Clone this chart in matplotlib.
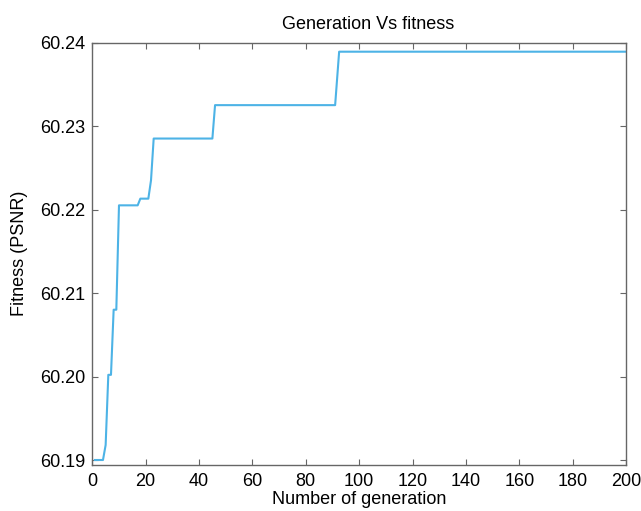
import matplotlib.pyplot as plt

plt.rcParams['font.family'] = ['Liberation Sans', 'DejaVu Sans']

# best fitness per generation (vertices of the curve)
gens = [1, 4, 5, 6, 7, 8, 9, 10, 17, 18, 21, 22, 23, 45, 46, 91, 92.5, 200]
fitness = [60.1900, 60.1900, 60.1918, 60.2002, 60.2002, 60.2080, 60.2080,
           60.2205, 60.2205, 60.2213, 60.2213, 60.2235, 60.2285, 60.2285,
           60.2325, 60.2325, 60.2389, 60.2389]

xticks = list(range(0, 201, 20))
yticks = [60.19, 60.20, 60.21, 60.22, 60.23, 60.24]

fig = plt.figure(figsize=(6.41, 5.11), dpi=100)
ax = fig.add_axes([0.144, 0.090, 0.8326, 0.8268])
ax.plot(gens, fitness, color='#4db3e6', linewidth=1.5)

ax.set_xlim(0, 200)
ax.set_ylim(60.1894, 60.24)
ax.set_xticks(xticks)
ax.set_yticks(yticks)
ax.set_yticklabels([f"{v:.2f}" for v in yticks])
ax.tick_params(direction='in', top=True, right=True, length=4.5,
               color='#666666', labelsize=13)
ax.tick_params(axis='x', pad=6)
ax.tick_params(axis='y', pad=5)
for s in ax.spines.values():
    s.set_color('#666666')
    s.set_linewidth(1.0)

ax.set_title("Generation Vs fitness", fontsize=13, pad=10, x=0.517)
ax.set_xlabel("Number of generation", fontsize=13, labelpad=0.5)
ax.set_ylabel("Fitness (PSNR)", fontsize=13, labelpad=9)

fig.savefig("out.png", dpi=100)
